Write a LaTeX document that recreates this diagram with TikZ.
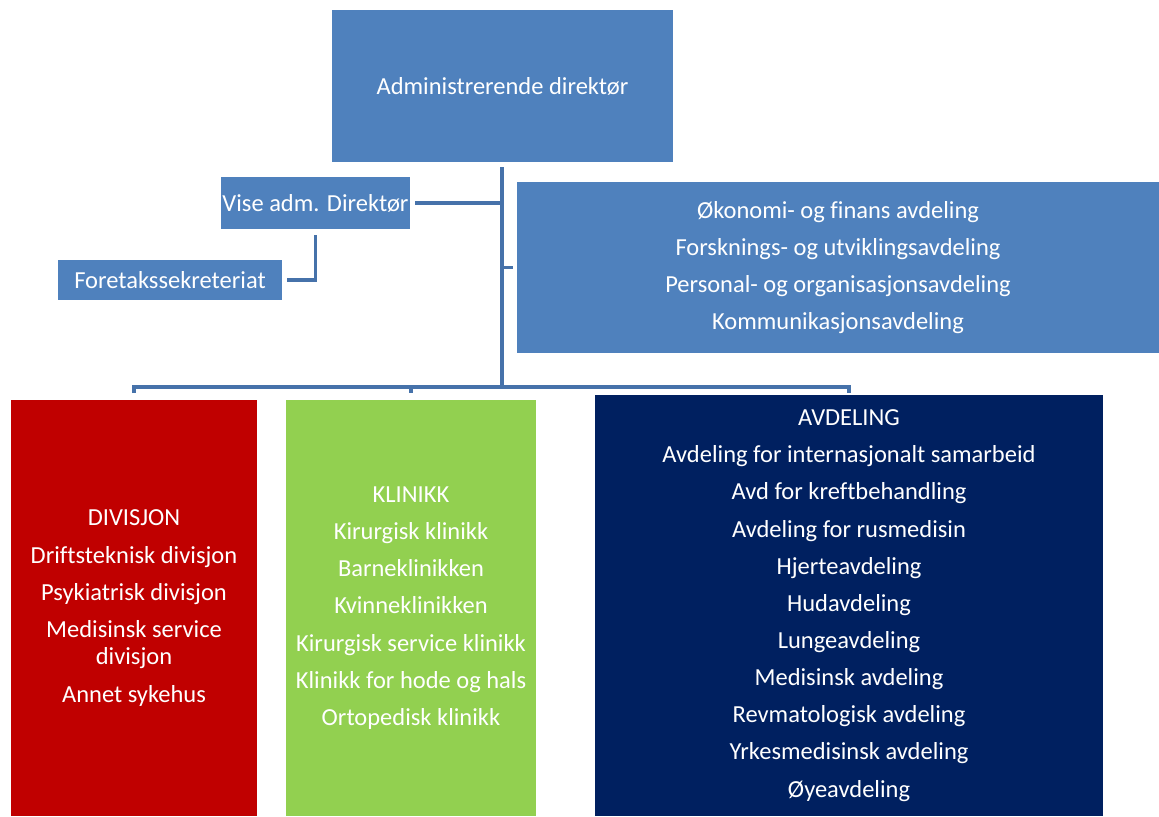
\documentclass[tikz,border=0pt]{standalone}
\usepackage{fontspec}
\setmainfont{Carlito}[Ligatures=NoCommon]
\usepackage{tikz}
\usetikzlibrary{positioning,calc}
\definecolor{orgblue}{HTML}{4F81BD}
\definecolor{orgred}{HTML}{C00000}
\definecolor{orggreen}{HTML}{92D050}
\definecolor{orgnavy}{HTML}{002060}
\definecolor{orgline}{HTML}{4672AA}

\begin{document}
\begin{tikzpicture}[
  x=0.03cm, y=-0.03cm,
  every node/.style={rectangle,inner sep=0pt,text=white,align=center,
   font=\fontsize{20.9}{23.5}\selectfont},
  unit/.style={fill=orgblue},
  division/.style={fill=orgred},
  clinic/.style={fill=orggreen},
  dept/.style={fill=orgnavy},
  link/.style={draw=orgline,line width=2.6pt}
  ]
  \useasboundingbox (0,0) rectangle (1159,816);

  % top level
  \node[unit,minimum width=10.23cm,minimum height=4.56cm] (adm) at (502.5,86)
   {Administrerende direktør};
  \node[unit,minimum width=5.67cm,minimum height=1.56cm] (vise) at (315.5,203)
   {Vise adm. Direktør};
  \node[unit,minimum width=6.72cm,minimum height=1.2cm] (sekr) at (170,280)
   {Foretakssekreteriat};
  \node[unit,minimum width=19.26cm,minimum height=5.13cm] (stab) at (838,267.5)
   {Økonomi- og finans avdeling\\[8.2pt]
    Forsknings- og utviklingsavdeling\\[8.2pt]
    Personal- og organisasjonsavdeling\\[8.2pt]
    Kommunikasjonsavdeling};

  % lower level
  \node[division,minimum width=7.38cm,minimum height=12.48cm] (div) at (134,608)
   {DIVISJON\\[8.2pt]
    Driftsteknisk divisjon\\[8.2pt]
    Psykiatrisk divisjon\\[8.2pt]
    Medisinsk service\\divisjon\\[8.2pt]
    Annet sykehus};
  \node[clinic,minimum width=7.5cm,minimum height=12.48cm] (klin) at (411,608)
   {KLINIKK\\[8.2pt]
    Kirurgisk klinikk\\[8.2pt]
    Barneklinikken\\[8.2pt]
    Kvinneklinikken\\[8.2pt]
    Kirurgisk service klinikk\\[8.2pt]
    Klinikk for hode og hals\\[8.2pt]
    Ortopedisk klinikk};
  \node[dept,minimum width=15.24cm,minimum height=12.63cm] (avd) at (849,605.5)
   {AVDELING\\[8.2pt]
    Avdeling for internasjonalt samarbeid\\[8.2pt]
    Avd for kreftbehandling\\[8.2pt]
    Avdeling for rusmedisin\\[8.2pt]
    Hjerteavdeling\\[8.2pt]
    Hudavdeling\\[8.2pt]
    Lungeavdeling\\[8.2pt]
    Medisinsk avdeling\\[8.2pt]
    Revmatologisk avdeling\\[8.2pt]
    Yrkesmedisinsk avdeling\\[8.2pt]
    Øyeavdeling};

  % connectors
  \coordinate (trunk) at (502,167);
  \coordinate (bus) at (502,387);
  \draw[link] (trunk) -- (bus);
  \draw[link] ([xshift=0.15cm]vise.east) -- (vise.east -| trunk);
  \draw[link] ([yshift=-0.18cm]vise.south) |- ([xshift=0.15cm]sekr.east);
  \draw[link] (stab.west -| trunk) -- ([xshift=-0.12cm]stab.west);
  \draw[link] ([yshift=0.2cm]div.north) |- (bus) -| ([yshift=0.06cm]avd.north);
  \draw[link] (klin.north |- bus) -- ([yshift=0.2cm]klin.north);
\end{tikzpicture}
\end{document}
